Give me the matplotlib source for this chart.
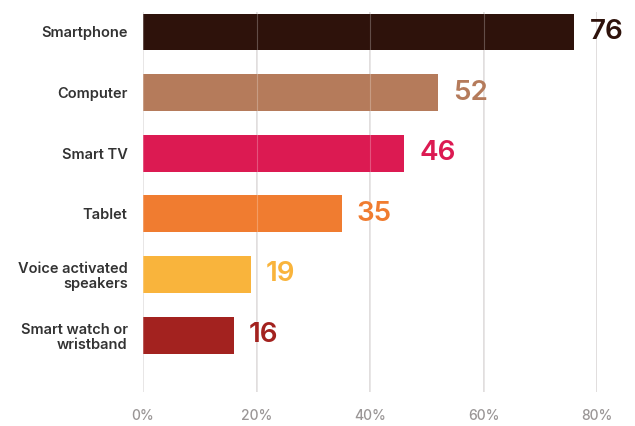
import numpy as np
import matplotlib
matplotlib.use("Agg")
import matplotlib.pyplot as plt

# device ownership, percent of respondents
devices = ["Smartphone", "Computer", "Smart TV", "Tablet",
           "Voice activated\nspeakers", "Smart watch or\nwristband"]
shares = [76, 52, 46, 35, 19, 16]
colors = ["#2e120b", "#b57b5b", "#dc1a52", "#f07c30", "#f9b43c", "#a3221f"]
xticks = [0, 20, 40, 60, 80]
xtick_labels = ["0%", "20%", "40%", "60%", "80%"]

plt.rcParams["font.family"] = ["Inter", "DejaVu Sans"]

fig = plt.figure(figsize=(6.35, 4.26), dpi=100)
ax = fig.add_axes([143 / 635, 1 - 392 / 426, (597 - 143) / 635, (392 - 12) / 426])

y = np.arange(len(devices))
ax.barh(y, shares, height=0.61, color=colors, zorder=2)

# grid lines, with a faint copy over the bars
for t in xticks:
    ax.axvline(t, color="#d9d5d5", lw=1.1, zorder=1)
    ax.axvline(t, color="#ffffff", lw=0.8, alpha=0.25, zorder=3)

for yi, v, c in zip(y, shares, colors):
    ax.annotate(str(v), (v, yi), xytext=(11, 0), textcoords="offset points",
                va="center", ha="left", fontsize=20, fontweight="semibold",
                color=c)

ax.set_xlim(0, 80)
ax.set_ylim(5.94, -0.33)
ax.set_yticks(y)
ax.set_yticklabels(devices, fontsize=10.5, fontweight="semibold", color="#333333",
                   linespacing=1.1)
ax.set_xticks(xticks)
ax.set_xticklabels(xtick_labels, fontsize=10, fontweight="medium", color="#9a9696")
ax.tick_params(axis="y", length=0, pad=11)
ax.tick_params(axis="x", length=0, pad=12)
for s in ax.spines.values():
    s.set_visible(False)

fig.savefig("out.png", dpi=100)
